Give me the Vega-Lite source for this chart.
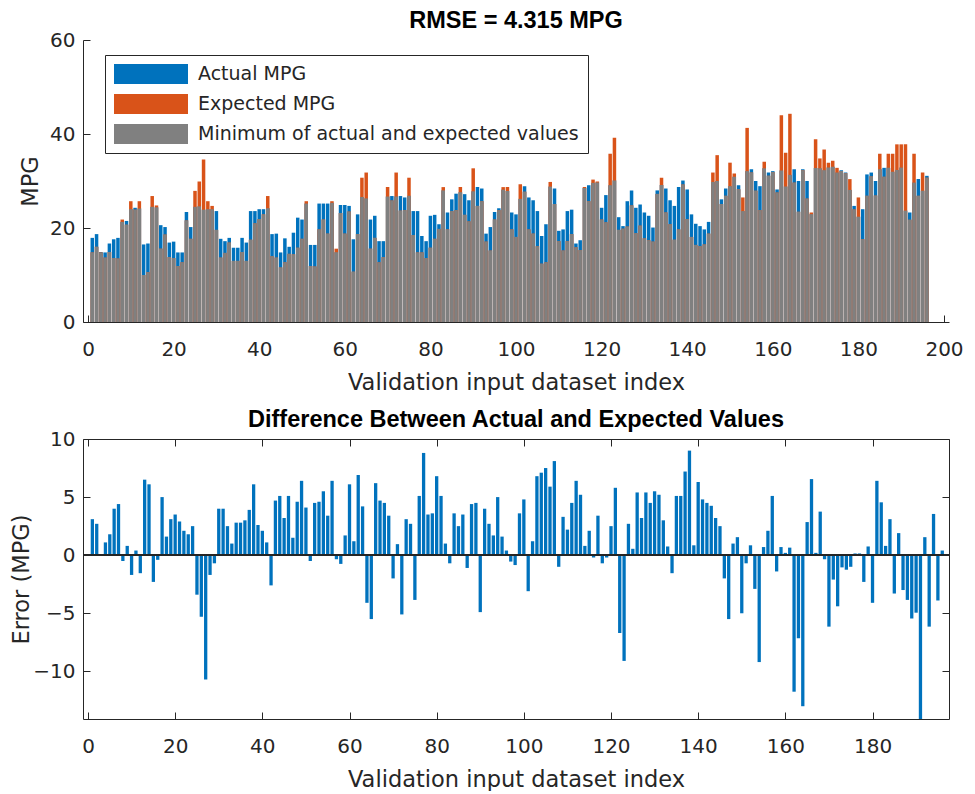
{
"$schema": "https://vega.github.io/schema/vega-lite/v6.json",
"background": "white",
"padding": {"left": 10, "top": 8, "right": 0, "bottom": 0},
"datasets": {"mpg": [
{"i":1,"actual":17.9,"expected":14.8,"minimum":14.8,"error":3.1},
{"i":2,"actual":18.7,"expected":16.0,"minimum":16.0,"error":2.7},
{"i":3,"actual":14.9,"expected":14.8,"minimum":14.8,"error":0.1},
{"i":4,"actual":14.8,"expected":13.7,"minimum":13.7,"error":1.1},
{"i":5,"actual":16.7,"expected":14.9,"minimum":14.9,"error":1.8},
{"i":6,"actual":17.6,"expected":13.6,"minimum":13.6,"error":4.0},
{"i":7,"actual":17.9,"expected":13.5,"minimum":13.5,"error":4.4},
{"i":8,"actual":21.3,"expected":21.8,"minimum":21.3,"error":-0.5},
{"i":9,"actual":21.5,"expected":20.7,"minimum":20.7,"error":0.8},
{"i":10,"actual":24.0,"expected":25.7,"minimum":24.0,"error":-1.7},
{"i":11,"actual":24.3,"expected":23.9,"minimum":23.9,"error":0.4},
{"i":12,"actual":24.15,"expected":25.7,"minimum":24.15,"error":-1.55},
{"i":13,"actual":16.5,"expected":10.0,"minimum":10.0,"error":6.5},
{"i":14,"actual":16.7,"expected":10.6,"minimum":10.6,"error":6.1},
{"i":15,"actual":24.5,"expected":26.8,"minimum":24.5,"error":-2.3},
{"i":16,"actual":24.4,"expected":24.8,"minimum":24.4,"error":-0.4},
{"i":17,"actual":20.6,"expected":15.6,"minimum":15.6,"error":5.0},
{"i":18,"actual":20.2,"expected":18.6,"minimum":18.6,"error":1.6},
{"i":19,"actual":16.9,"expected":13.8,"minimum":13.8,"error":3.1},
{"i":20,"actual":17.1,"expected":13.6,"minimum":13.6,"error":3.5},
{"i":21,"actual":14.8,"expected":11.9,"minimum":11.9,"error":2.9},
{"i":22,"actual":14.8,"expected":12.7,"minimum":12.7,"error":2.1},
{"i":23,"actual":23.4,"expected":21.6,"minimum":21.6,"error":1.8},
{"i":24,"actual":20.2,"expected":17.7,"minimum":17.7,"error":2.5},
{"i":25,"actual":24.5,"expected":27.9,"minimum":24.5,"error":-3.4},
{"i":26,"actual":24.6,"expected":29.9,"minimum":24.6,"error":-5.3},
{"i":27,"actual":23.9,"expected":34.6,"minimum":23.9,"error":-10.7},
{"i":28,"actual":24.0,"expected":25.7,"minimum":24.0,"error":-1.7},
{"i":29,"actual":24.0,"expected":24.7,"minimum":24.0,"error":-0.7},
{"i":30,"actual":23.6,"expected":19.6,"minimum":19.6,"error":4.0},
{"i":31,"actual":17.7,"expected":13.7,"minimum":13.7,"error":4.0},
{"i":32,"actual":17.2,"expected":14.7,"minimum":14.7,"error":2.5},
{"i":33,"actual":17.9,"expected":16.9,"minimum":16.9,"error":1.0},
{"i":34,"actual":15.8,"expected":13.0,"minimum":13.0,"error":2.8},
{"i":35,"actual":15.8,"expected":13.0,"minimum":13.0,"error":2.8},
{"i":36,"actual":17.9,"expected":14.9,"minimum":14.9,"error":3.0},
{"i":37,"actual":16.9,"expected":13.0,"minimum":13.0,"error":3.9},
{"i":38,"actual":23.6,"expected":17.5,"minimum":17.5,"error":6.1},
{"i":39,"actual":23.6,"expected":21.0,"minimum":21.0,"error":2.6},
{"i":40,"actual":24.0,"expected":21.9,"minimum":21.9,"error":2.1},
{"i":41,"actual":24.0,"expected":22.9,"minimum":22.9,"error":1.1},
{"i":42,"actual":24.2,"expected":26.8,"minimum":24.2,"error":-2.6},
{"i":43,"actual":18.7,"expected":14.0,"minimum":14.0,"error":4.7},
{"i":44,"actual":18.8,"expected":13.7,"minimum":13.7,"error":5.1},
{"i":45,"actual":14.8,"expected":11.6,"minimum":11.6,"error":3.2},
{"i":46,"actual":17.8,"expected":12.7,"minimum":12.7,"error":5.1},
{"i":47,"actual":16.0,"expected":14.5,"minimum":14.5,"error":1.5},
{"i":48,"actual":19.0,"expected":14.4,"minimum":14.4,"error":4.6},
{"i":49,"actual":22.2,"expected":15.8,"minimum":15.8,"error":6.4},
{"i":50,"actual":21.8,"expected":17.7,"minimum":17.7,"error":4.1},
{"i":51,"actual":25.2,"expected":25.7,"minimum":25.2,"error":-0.5},
{"i":52,"actual":16.4,"expected":11.9,"minimum":11.9,"error":4.5},
{"i":53,"actual":16.4,"expected":11.8,"minimum":11.8,"error":4.6},
{"i":54,"actual":25.2,"expected":19.7,"minimum":19.7,"error":5.5},
{"i":55,"actual":25.2,"expected":21.8,"minimum":21.8,"error":3.4},
{"i":56,"actual":25.2,"expected":18.8,"minimum":18.8,"error":6.4},
{"i":57,"actual":25.35,"expected":25.7,"minimum":25.35,"error":-0.35},
{"i":58,"actual":14.85,"expected":15.6,"minimum":14.85,"error":-0.75},
{"i":59,"actual":24.9,"expected":23.2,"minimum":23.2,"error":1.7},
{"i":60,"actual":24.9,"expected":18.8,"minimum":18.8,"error":6.1},
{"i":61,"actual":24.7,"expected":23.5,"minimum":23.5,"error":1.2},
{"i":62,"actual":17.6,"expected":10.7,"minimum":10.7,"error":6.9},
{"i":63,"actual":22.9,"expected":18.7,"minimum":18.7,"error":4.2},
{"i":64,"actual":26.6,"expected":30.7,"minimum":26.6,"error":-4.1},
{"i":65,"actual":26.3,"expected":31.8,"minimum":26.3,"error":-5.5},
{"i":66,"actual":21.8,"expected":15.6,"minimum":15.6,"error":6.2},
{"i":67,"actual":22.6,"expected":17.9,"minimum":17.9,"error":4.7},
{"i":68,"actual":17.2,"expected":12.7,"minimum":12.7,"error":4.5},
{"i":69,"actual":17.2,"expected":13.8,"minimum":13.8,"error":3.4},
{"i":70,"actual":26.7,"expected":28.7,"minimum":26.7,"error":-2.0},
{"i":71,"actual":26.8,"expected":25.85,"minimum":25.85,"error":0.95},
{"i":72,"actual":26.7,"expected":31.8,"minimum":26.7,"error":-5.1},
{"i":73,"actual":26.8,"expected":23.7,"minimum":23.7,"error":3.1},
{"i":74,"actual":26.5,"expected":23.8,"minimum":23.8,"error":2.7},
{"i":75,"actual":26.85,"expected":30.7,"minimum":26.85,"error":-3.85},
{"i":76,"actual":23.6,"expected":18.5,"minimum":18.5,"error":5.1},
{"i":77,"actual":23.6,"expected":14.8,"minimum":14.8,"error":8.8},
{"i":78,"actual":18.3,"expected":14.8,"minimum":14.8,"error":3.5},
{"i":79,"actual":17.2,"expected":13.6,"minimum":13.6,"error":3.6},
{"i":80,"actual":22.6,"expected":15.8,"minimum":15.8,"error":6.8},
{"i":81,"actual":22.8,"expected":17.7,"minimum":17.7,"error":5.1},
{"i":82,"actual":20.8,"expected":19.8,"minimum":19.8,"error":1.0},
{"i":83,"actual":28.0,"expected":28.7,"minimum":28.0,"error":-0.7},
{"i":84,"actual":23.3,"expected":19.7,"minimum":19.7,"error":3.6},
{"i":85,"actual":26.1,"expected":23.6,"minimum":23.6,"error":2.5},
{"i":86,"actual":27.3,"expected":23.8,"minimum":23.8,"error":3.5},
{"i":87,"actual":27.6,"expected":28.7,"minimum":27.6,"error":-1.1},
{"i":88,"actual":27.2,"expected":22.8,"minimum":22.8,"error":4.4},
{"i":89,"actual":25.9,"expected":21.4,"minimum":21.4,"error":4.5},
{"i":90,"actual":27.8,"expected":32.7,"minimum":27.8,"error":-4.9},
{"i":91,"actual":28.7,"expected":24.7,"minimum":24.7,"error":4.0},
{"i":92,"actual":28.4,"expected":25.7,"minimum":25.7,"error":2.7},
{"i":93,"actual":18.8,"expected":17.1,"minimum":17.1,"error":1.7},
{"i":94,"actual":20.2,"expected":15.2,"minimum":15.2,"error":5.0},
{"i":95,"actual":23.4,"expected":21.8,"minimum":21.8,"error":1.6},
{"i":96,"actual":24.2,"expected":23.8,"minimum":23.8,"error":0.4},
{"i":97,"actual":28.15,"expected":28.7,"minimum":28.15,"error":-0.55},
{"i":98,"actual":27.85,"expected":28.7,"minimum":27.85,"error":-0.85},
{"i":99,"actual":23.3,"expected":19.7,"minimum":19.7,"error":3.6},
{"i":100,"actual":22.9,"expected":18.1,"minimum":18.1,"error":4.8},
{"i":101,"actual":26.2,"expected":29.3,"minimum":26.2,"error":-3.1},
{"i":102,"actual":28.9,"expected":27.7,"minimum":27.7,"error":1.2},
{"i":103,"actual":26.5,"expected":19.7,"minimum":19.7,"error":6.8},
{"i":104,"actual":25.9,"expected":18.8,"minimum":18.8,"error":7.1},
{"i":105,"actual":23.6,"expected":16.1,"minimum":16.1,"error":7.5},
{"i":106,"actual":18.3,"expected":12.4,"minimum":12.4,"error":5.9},
{"i":107,"actual":20.8,"expected":12.7,"minimum":12.7,"error":8.1},
{"i":108,"actual":28.8,"expected":29.8,"minimum":28.8,"error":-1.0},
{"i":109,"actual":28.4,"expected":25.1,"minimum":25.1,"error":3.3},
{"i":110,"actual":19.4,"expected":17.2,"minimum":17.2,"error":2.2},
{"i":111,"actual":19.7,"expected":15.2,"minimum":15.2,"error":4.5},
{"i":112,"actual":23.6,"expected":17.2,"minimum":17.2,"error":6.4},
{"i":113,"actual":23.9,"expected":18.7,"minimum":18.7,"error":5.2},
{"i":114,"actual":16.7,"expected":15.9,"minimum":15.9,"error":0.8},
{"i":115,"actual":17.4,"expected":15.3,"minimum":15.3,"error":2.1},
{"i":116,"actual":28.5,"expected":28.7,"minimum":28.5,"error":-0.2},
{"i":117,"actual":29.1,"expected":25.7,"minimum":25.7,"error":3.4},
{"i":118,"actual":29.6,"expected":30.3,"minimum":29.6,"error":-0.7},
{"i":119,"actual":29.7,"expected":29.9,"minimum":29.7,"error":-0.2},
{"i":120,"actual":24.3,"expected":21.8,"minimum":21.8,"error":2.5},
{"i":121,"actual":27.0,"expected":21.2,"minimum":21.2,"error":5.8},
{"i":122,"actual":29.1,"expected":35.8,"minimum":29.1,"error":-6.7},
{"i":123,"actual":30.1,"expected":39.2,"minimum":30.1,"error":-9.1},
{"i":124,"actual":22.3,"expected":19.6,"minimum":19.6,"error":2.7},
{"i":125,"actual":20.4,"expected":19.85,"minimum":19.85,"error":0.55},
{"i":126,"actual":25.7,"expected":20.3,"minimum":20.3,"error":5.4},
{"i":127,"actual":28.0,"expected":24.8,"minimum":24.8,"error":3.2},
{"i":128,"actual":24.3,"expected":18.9,"minimum":18.9,"error":5.4},
{"i":129,"actual":25.0,"expected":20.5,"minimum":20.5,"error":4.5},
{"i":130,"actual":23.3,"expected":17.8,"minimum":17.8,"error":5.5},
{"i":131,"actual":22.6,"expected":17.4,"minimum":17.4,"error":5.2},
{"i":132,"actual":20.1,"expected":17.1,"minimum":17.1,"error":3.0},
{"i":133,"actual":28.0,"expected":27.25,"minimum":27.25,"error":0.75},
{"i":134,"actual":29.15,"expected":30.7,"minimum":29.15,"error":-1.55},
{"i":135,"actual":28.4,"expected":23.3,"minimum":23.3,"error":5.1},
{"i":136,"actual":25.9,"expected":20.8,"minimum":20.8,"error":5.1},
{"i":137,"actual":24.7,"expected":17.5,"minimum":17.5,"error":7.2},
{"i":138,"actual":28.7,"expected":19.7,"minimum":19.7,"error":9.0},
{"i":139,"actual":30.1,"expected":29.25,"minimum":29.25,"error":0.85},
{"i":140,"actual":28.2,"expected":21.9,"minimum":21.9,"error":6.3},
{"i":141,"actual":22.9,"expected":18.1,"minimum":18.1,"error":4.8},
{"i":142,"actual":20.9,"expected":16.4,"minimum":16.4,"error":4.5},
{"i":143,"actual":20.4,"expected":16.15,"minimum":16.15,"error":4.25},
{"i":144,"actual":19.7,"expected":16.5,"minimum":16.5,"error":3.2},
{"i":145,"actual":21.3,"expected":18.8,"minimum":18.8,"error":2.5},
{"i":146,"actual":29.8,"expected":31.8,"minimum":29.8,"error":-2.0},
{"i":147,"actual":30.0,"expected":35.5,"minimum":30.0,"error":-5.5},
{"i":148,"actual":26.1,"expected":25.1,"minimum":25.1,"error":1.0},
{"i":149,"actual":28.4,"expected":26.85,"minimum":26.85,"error":1.55},
{"i":150,"actual":28.9,"expected":33.9,"minimum":28.9,"error":-5.0},
{"i":151,"actual":30.9,"expected":31.6,"minimum":30.9,"error":-0.7},
{"i":152,"actual":29.1,"expected":28.25,"minimum":28.25,"error":0.85},
{"i":153,"actual":23.6,"expected":26.5,"minimum":23.6,"error":-2.9},
{"i":154,"actual":32.1,"expected":41.3,"minimum":32.1,"error":-9.2},
{"i":155,"actual":32.5,"expected":31.8,"minimum":31.8,"error":0.7},
{"i":156,"actual":30.0,"expected":27.9,"minimum":27.9,"error":2.1},
{"i":157,"actual":28.9,"expected":23.8,"minimum":23.8,"error":5.1},
{"i":158,"actual":32.7,"expected":34.1,"minimum":32.7,"error":-1.4},
{"i":159,"actual":31.8,"expected":31.1,"minimum":31.1,"error":0.7},
{"i":160,"actual":32.1,"expected":31.9,"minimum":31.9,"error":0.2},
{"i":161,"actual":28.2,"expected":27.55,"minimum":27.55,"error":0.65},
{"i":162,"actual":32.25,"expected":44.0,"minimum":32.25,"error":-11.75},
{"i":163,"actual":28.85,"expected":36.0,"minimum":28.85,"error":-7.15},
{"i":164,"actual":31.3,"expected":44.3,"minimum":31.3,"error":-13.0},
{"i":165,"actual":32.5,"expected":29.65,"minimum":29.65,"error":2.85},
{"i":166,"actual":30.0,"expected":23.45,"minimum":23.45,"error":6.55},
{"i":167,"actual":32.5,"expected":32.3,"minimum":32.3,"error":0.2},
{"i":168,"actual":30.0,"expected":26.25,"minimum":26.25,"error":3.75},
{"i":169,"actual":22.95,"expected":23.3,"minimum":22.95,"error":-0.35},
{"i":170,"actual":32.75,"expected":38.9,"minimum":32.75,"error":-6.15},
{"i":171,"actual":32.7,"expected":34.8,"minimum":32.7,"error":-2.1},
{"i":172,"actual":32.3,"expected":36.7,"minimum":32.3,"error":-4.4},
{"i":173,"actual":32.85,"expected":33.9,"minimum":32.85,"error":-1.05},
{"i":174,"actual":33.05,"expected":34.3,"minimum":33.05,"error":-1.25},
{"i":175,"actual":31.8,"expected":32.8,"minimum":31.8,"error":-1.0},
{"i":176,"actual":32.3,"expected":32.15,"minimum":32.15,"error":0.15},
{"i":177,"actual":31.8,"expected":31.65,"minimum":31.65,"error":0.15},
{"i":178,"actual":28.1,"expected":30.4,"minimum":28.1,"error":-2.3},
{"i":179,"actual":24.7,"expected":23.95,"minimum":23.95,"error":0.75},
{"i":180,"actual":22.4,"expected":26.5,"minimum":22.4,"error":-4.1},
{"i":181,"actual":24.0,"expected":17.6,"minimum":17.6,"error":6.4},
{"i":182,"actual":31.4,"expected":26.85,"minimum":26.85,"error":4.55},
{"i":183,"actual":31.8,"expected":31.0,"minimum":31.0,"error":0.8},
{"i":184,"actual":30.0,"expected":26.9,"minimum":26.9,"error":3.1},
{"i":185,"actual":32.5,"expected":35.8,"minimum":32.5,"error":-3.3},
{"i":186,"actual":32.8,"expected":30.9,"minimum":30.9,"error":1.9},
{"i":187,"actual":32.8,"expected":35.8,"minimum":32.8,"error":-3.0},
{"i":188,"actual":31.95,"expected":35.8,"minimum":31.95,"error":-3.85},
{"i":189,"actual":32.35,"expected":37.8,"minimum":32.35,"error":-5.45},
{"i":190,"actual":32.85,"expected":37.8,"minimum":32.85,"error":-4.95},
{"i":191,"actual":23.7,"expected":37.8,"minimum":23.7,"error":-14.1},
{"i":192,"actual":23.3,"expected":21.75,"minimum":21.75,"error":1.55},
{"i":193,"actual":29.65,"expected":35.8,"minimum":29.65,"error":-6.15},
{"i":194,"actual":30.4,"expected":26.85,"minimum":26.85,"error":3.55},
{"i":195,"actual":27.9,"expected":31.8,"minimum":27.9,"error":-3.9},
{"i":196,"actual":31.1,"expected":30.7,"minimum":30.7,"error":0.4}
]},
"config": {
  "view": {"stroke": null},
  "axis": {
    "labelFont": "DejaVu Sans", "labelFontSize": 20, "labelColor": "#262626",
    "titleFont": "DejaVu Sans", "titleFontSize": 22.5, "titleFontWeight": "normal", "titleColor": "#262626",
    "domainColor": "#262626", "tickColor": "#262626", "domainWidth": 1, "tickWidth": 1,
    "tickSize": -7, "grid": false
  },
  "axisX": {"labelPadding": 24, "titlePadding": 12},
  "axisY": {"labelPadding": 15},
  "title": {"font": "Liberation Sans", "fontSize": 23.5, "fontWeight": "bold", "color": "#000000", "offset": -2, "frame": "group"}
},
"bounds": "flush",
"spacing": 117,
"resolve": {"scale": {"x": "independent", "y": "independent", "color": "independent"}, "axis": {"x": "independent", "y": "independent"}},
"vconcat": [
  {
    "width": 866, "height": 282,
    "title": "RMSE = 4.315 MPG",
    "data": {"name": "mpg"},
    "encoding": {
      "x": {"field": "i", "type": "quantitative", "title": "Validation input dataset index",
            "scale": {"domain": [0, 200], "nice": false, "zero": false},
            "axis": {"values": [0, 20, 40, 60, 80, 100, 120, 140, 160, 180, 200]}}
    },
    "layer": [
      {"mark": {"type": "bar", "orient": "vertical", "width": 3.5},
       "encoding": {
         "y": {"field": "actual", "type": "quantitative", "title": "MPG",
               "scale": {"domain": [0, 60], "nice": false},
               "axis": {"values": [0, 20, 40, 60], "titlePadding": 7}},
         "color": {"datum": "Actual MPG", "type": "nominal",
                   "scale": {"domain": ["Actual MPG", "Expected MPG", "Minimum of actual and expected values"], "range": ["#0072BD", "#D95319", "#808080"]},
                   "legend": {"title": null, "orient": "none", "legendX": 22, "legendY": 15,
                              "fillColor": "white", "strokeColor": "#262626", "padding": 9,
                              "labelFont": "DejaVu Sans", "labelFontSize": 19, "labelColor": "#262626", "labelLimit": 600,
                              "symbolType": "M-3.7,-1H3.7V1H-3.7Z", "symbolSize": 400, "symbolOffset": 27, "symbolStrokeWidth": 0, "symbolOpacity": 1,
                              "labelOffset": 37, "rowPadding": 10}}
       }},
      {"mark": {"type": "bar", "orient": "vertical", "width": 3.5},
       "encoding": {
         "y": {"field": "expected", "type": "quantitative", "title": "MPG"},
         "color": {"datum": "Expected MPG", "type": "nominal"}
       }},
      {"mark": {"type": "bar", "orient": "vertical", "width": 3.5},
       "encoding": {
         "y": {"field": "minimum", "type": "quantitative", "title": "MPG"},
         "color": {"datum": "Minimum of actual and expected values", "type": "nominal"}
       }}
    ]
  },
  {
    "width": 866, "height": 280,
    "title": "Difference Between Actual and Expected Values",
    "data": {"name": "mpg"},
    "resolve": {"scale": {"x": "independent", "y": "independent"}, "axis": {"x": "independent", "y": "independent"}},
    "layer": [
      {"layer": [
        {"mark": {"type": "bar", "orient": "vertical", "width": 3.3, "color": "#0072BD", "clip": true},
         "encoding": {
           "x": {"field": "i", "type": "quantitative", "title": "Validation input dataset index",
                 "scale": {"domain": [0, 196.4], "nice": false, "zero": false},
                 "axis": {"values": [0, 20, 40, 60, 80, 100, 120, 140, 160, 180], "orient": "bottom"}},
           "y": {"field": "error", "type": "quantitative", "title": "Error (MPG)",
                 "scale": {"domain": [-14.1, 10], "nice": false, "zero": false},
                 "axis": {"values": [-10, -5, 0, 5, 10], "orient": "left", "titlePadding": -1}}
         }},
        {"mark": {"type": "rule", "color": "#262626", "strokeWidth": 1},
         "encoding": {"y": {"datum": 0, "type": "quantitative"}}}
      ]},
      {"mark": {"type": "bar", "orient": "vertical", "width": 3.3, "opacity": 0},
       "encoding": {
         "x": {"field": "i", "type": "quantitative", "title": null,
               "scale": {"domain": [0, 196.4], "nice": false, "zero": false},
               "axis": {"values": [0, 20, 40, 60, 80, 100, 120, 140, 160, 180], "orient": "top", "labels": false}},
         "y": {"field": "error", "type": "quantitative", "title": null,
               "scale": {"domain": [-14.1, 10], "nice": false, "zero": false},
               "axis": {"values": [-10, -5, 0, 5, 10], "orient": "right", "labels": false}}
       }}
    ]
  }
]
}
